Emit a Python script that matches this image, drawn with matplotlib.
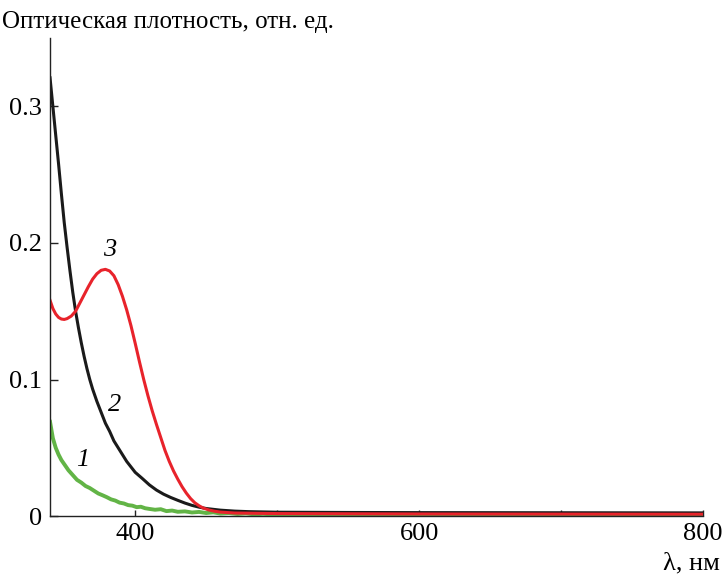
import matplotlib
matplotlib.use("Agg")
import matplotlib.pyplot as plt

plt.rcParams['font.family'] = ['Liberation Serif', 'DejaVu Serif']

# curve 2 (black)
wl_2 = [340, 342, 344, 346, 348, 350, 352, 354, 356, 358, 360, 362, 364, 366, 368, 370, 373,
        376, 379, 382, 385, 388, 391, 394, 397, 400, 405, 410, 415, 420, 425, 430, 435, 440,
        445, 450, 460, 470, 480, 500, 550, 600, 700, 800]
ab_2 = [0.321, 0.300, 0.279, 0.258, 0.236, 0.215, 0.197, 0.180, 0.164, 0.150, 0.138, 0.127,
        0.117, 0.108, 0.100, 0.093, 0.084, 0.076, 0.068, 0.062, 0.055, 0.050, 0.045, 0.040,
        0.036, 0.032, 0.0275, 0.0228, 0.019, 0.016, 0.0136, 0.0115, 0.0095, 0.0078, 0.0065,
        0.0055, 0.0043, 0.0036, 0.0032, 0.0028, 0.0026, 0.0025, 0.0024, 0.0023]

# curve 3 (red)
wl_3 = [340, 342, 344, 346, 348, 350, 352, 355, 358, 361, 364, 367, 370, 373, 376, 379, 382,
        385, 388, 391, 394, 397, 400, 403, 406, 409, 412, 415, 418, 421, 424, 427, 430, 433,
        436, 439, 442, 445, 448, 452, 456, 460, 470, 500, 600, 700, 800]
ab_3 = [0.158, 0.152, 0.148, 0.1455, 0.1443, 0.144, 0.1446, 0.1465, 0.150, 0.156, 0.162, 0.168,
        0.1735, 0.1775, 0.1800, 0.1807, 0.1795, 0.1760, 0.1695, 0.161, 0.151, 0.1395, 0.1265,
        0.113, 0.1, 0.088, 0.077, 0.067, 0.0575, 0.048, 0.040, 0.033, 0.027, 0.0215, 0.0168,
        0.0128, 0.0097, 0.0075, 0.0058, 0.0044, 0.0035, 0.0029, 0.0022, 0.0018, 0.0015, 0.0014,
        0.0013]

# curve 1 (green, noisy)
wl_1 = [340, 342, 344, 346, 348, 350, 353, 356, 359, 362, 365, 368, 371, 374, 377, 380, 383,
        386, 389, 392, 395, 398, 401, 404, 407, 410, 414, 418, 422, 426, 430, 435, 440, 445,
        450, 455, 460, 466, 472, 478, 484, 490, 500, 510, 520, 530, 545, 560, 575, 590, 610,
        630, 650, 670, 690, 710, 730, 750, 770, 785, 800]
ab_1 = [0.069, 0.057, 0.050, 0.045, 0.041, 0.038, 0.0335, 0.030, 0.0265, 0.0245, 0.022, 0.0205,
        0.0185, 0.0165, 0.0152, 0.0138, 0.0122, 0.0113, 0.0098, 0.0092, 0.0080, 0.0076, 0.0065,
        0.0068, 0.0057, 0.0052, 0.0046, 0.0050, 0.0036, 0.0040, 0.0031, 0.0034, 0.0026, 0.0030,
        0.0022, 0.0027, 0.0018, 0.0022, 0.0015, 0.0019, 0.0012, 0.0016, 0.0010, 0.0013, 0.0008,
        0.0011, 0.0006, 0.0009, 0.0004, 0.0007, 0.0003, 0.0006, 0.0002, 0.0005, 0.0001, 0.0004,
        0.0001, 0.0003, 0.0000, 0.0002, 0.0001]

fig = plt.figure(figsize=(7.22, 5.74), dpi=100)
ax = fig.add_axes([0.0693, 0.101, 0.9044, 0.8324])

ax.plot(wl_1, ab_1, color='#62b446', lw=2.8, solid_joinstyle='round')
ax.plot(wl_2, ab_2, color='#1a1a1a', lw=2.2, solid_joinstyle='round')
ax.plot(wl_3, ab_3, color='#e8232b', lw=2.2, solid_joinstyle='round')

ax.set_xlim(340, 800)
ax.set_ylim(0, 0.35)
ax.set_xticks([400, 500, 600, 700, 800])
ax.set_xticklabels(['400', '', '600', '', '800'])
ax.set_yticks([0, 0.1, 0.2, 0.3])
ax.set_yticklabels(['0', '0.1', '0.2', '0.3'])

for s in ['top', 'right']:
    ax.spines[s].set_visible(False)
for s in ['left', 'bottom']:
    ax.spines[s].set_linewidth(1.0)
    ax.spines[s].set_color('#222222')

ax.tick_params(axis='y', direction='in', length=6, width=1.0, pad=6, labelsize=19, color='#222222')
ax.tick_params(axis='x', direction='in', length=4, width=1.0, pad=5, labelsize=19, color='#222222')

ax.text(363.2, 0.041, '1', fontsize=19, style='italic', ha='center', va='center')
ax.text(385.7, 0.0813, '2', fontsize=19, style='italic', ha='center', va='center')
ax.text(382.2, 0.195, '3', fontsize=19, style='italic', ha='center', va='center')

fig.text(0.003, 1 - 22 / 574, 'Оптическая плотность, отн. ед.', fontsize=18, ha='left', va='center')
fig.text(1 - 2 / 722, 1 - 563 / 574, 'λ, нм', fontsize=19, ha='right', va='center')

fig.savefig('out.png', dpi=100)
